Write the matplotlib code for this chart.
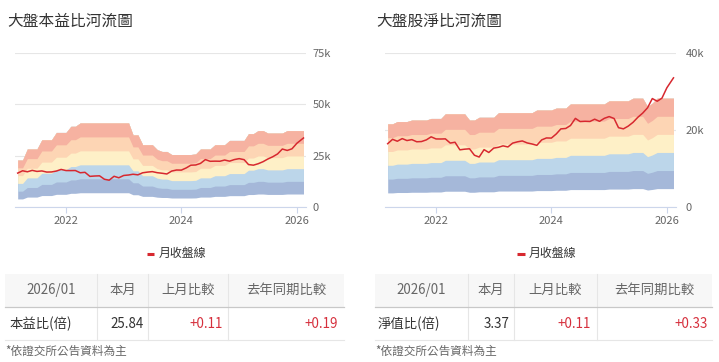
import numpy as np
import pandas as pd
import matplotlib
matplotlib.use('Agg')
import matplotlib.pyplot as plt
import matplotlib.dates as mdates
from matplotlib.patches import Rectangle

plt.rcParams['font.family'] = ['Noto Sans CJK TC', 'DejaVu Sans']

# monthly points 2021-03 .. 2026-01 plus the latest point
dates = list(pd.date_range('2021-03-01', '2026-01-01', freq='MS')) + [pd.Timestamp('2026-02-12')]

# monthly close of the index (thousands)
price = [16.43, 17.57, 17.07, 17.76, 17.25, 17.49, 16.93, 16.99, 17.43, 18.22,
         17.67, 17.65, 17.69, 16.59, 16.81, 14.83, 15.00, 15.10, 13.42, 12.95,
         14.88, 14.14, 15.27, 15.50, 15.87, 15.58, 16.58, 16.92, 17.15, 16.63,
         16.35, 16.00, 17.43, 17.93, 17.89, 18.97, 20.29, 20.40, 21.17, 23.03,
         22.20, 22.27, 22.22, 22.82, 22.26, 23.04, 23.50, 23.00, 20.60, 20.30,
         21.00, 22.00, 23.30, 24.40, 25.80, 28.20, 27.50, 28.30, 31.00, 33.60]

# trailing EPS (thousands) and book value per share (thousands)
eps = [0.76, 0.76, 0.94, 0.94, 0.94, 1.09, 1.09, 1.09, 1.21, 1.21,
       1.21, 1.31, 1.31, 1.365, 1.365, 1.365, 1.365, 1.365, 1.365, 1.365,
       1.365, 1.365, 1.365, 1.365, 1.17, 1.17, 1.01, 1.01, 1.01, 0.93,
       0.90, 0.90, 0.85, 0.85, 0.85, 0.85, 0.85, 0.86, 0.94, 0.94,
       0.94, 1.01, 1.01, 1.01, 1.08, 1.08, 1.08, 1.08, 1.19, 1.19,
       1.24, 1.24, 1.20, 1.20, 1.20, 1.20, 1.24, 1.24, 1.24, 1.24]
bvps = [7.20, 7.20, 7.40, 7.40, 7.40, 7.53, 7.53, 7.53, 7.53, 7.67,
        7.67, 7.67, 8.07, 8.07, 8.07, 8.07, 8.07, 7.53, 7.53, 7.77,
        7.77, 7.77, 7.77, 8.17, 8.17, 8.17, 8.17, 8.17, 8.17, 8.17,
        8.17, 8.40, 8.40, 8.40, 8.40, 8.57, 8.57, 8.57, 8.93, 8.93,
        8.93, 8.93, 8.93, 8.93, 8.93, 8.93, 9.20, 9.20, 9.20, 9.20,
        9.20, 9.43, 9.43, 9.43, 8.70, 9.00, 9.43, 9.43, 9.43, 9.43]

pe_mult = [5, 10, 15, 20, 25, 30]
pb_mult = [0.5, 1.0, 1.5, 2.0, 2.5, 3.0]
band_colors = ['#a5b8d9', '#bcd6ea', '#fef0c7', '#fdd5b4', '#f6b2a1']

titles = ['大盤本益比河流圖', '大盤股淨比河流圖']
table_head = ['2026/01', '本月', '上月比較', '去年同期比較']
pe_row = ['本益比(倍)', '25.84', '+0.11', '+0.19']
pb_row = ['淨值比(倍)', '3.37', '+0.11', '+0.33']
note = '*依證交所公告資料為主'

W, H = 719, 362
fig = plt.figure(figsize=(W / 100, H / 100), dpi=100)

x0 = pd.Timestamp('2021-02-12')
x1 = pd.Timestamp('2026-02-26')
px_w = 290.7


def river(left, base, mult, ymax, step, pad):
    ax = fig.add_axes([left / W, 1 - 206.7 / H, px_w / W, 153.4 / H])
    b = np.array(base)
    for i in range(5):
        ax.fill_between(dates, b * mult[i], b * mult[5], color=band_colors[i], lw=0)
    ax.plot(dates, price, color='#d7282f', lw=1.1)
    ax.set_xlim(x0, x1)
    ax.set_ylim(0, ymax)
    ax.set_yticks(np.arange(0, ymax + 1, step))
    ax.yaxis.set_major_formatter(lambda v, p: '0' if v == 0 else f'{int(v)}k')
    ax.yaxis.tick_right()
    ticks = [pd.Timestamp(f'{y}-01-01') for y in (2022, 2024, 2026)]
    ax.set_xticks(ticks)
    ax.set_xticklabels(['2022', '2024', '2026'])
    ax.grid(axis='y', color='#e6e6e6', lw=0.8)
    ax.set_axisbelow(True)
    for s in ['top', 'left', 'right']:
        ax.spines[s].set_visible(False)
    ax.spines['bottom'].set_color('#ccd6eb')
    ax.tick_params(axis='y', length=0, labelsize=8, labelcolor='#666666', pad=pad)
    ax.tick_params(axis='x', length=4, color='#ccd6eb', labelsize=8, labelcolor='#666666', pad=3)
    return ax


river(15, eps, pe_mult, 75, 25, 5)
river(385, bvps, pb_mult, 40, 20, 7)

# overlay in pixel coordinates for titles, legend and tables
ov = fig.add_axes([0, 0, 1, 1])
ov.set_xlim(0, W)
ov.set_ylim(H, 0)
ov.axis('off')
ov.patch.set_alpha(0)

ov.text(7, 21, titles[0], fontsize=11.3, color='#333333', va='center', ha='left')
ov.text(376, 21, titles[1], fontsize=11.3, color='#333333', va='center', ha='left')

for lx in (146.5, 517):
    ov.plot([lx, lx + 7.5], [253.5, 253.5], color='#d7282f', lw=2.2, solid_capstyle='butt')
    ov.text(lx + 12, 253.5, '月收盤線', fontsize=8.6, color='#333333', va='center', ha='left')


def table(xs, row, lx, rx):
    # xs: left edge, 3 separators, right edge
    ov.add_patch(Rectangle((xs[0], 273.5), xs[-1] - xs[0], 33.5, color='#f7f7f7', lw=0))
    for sx in xs[1:-1]:
        ov.plot([sx, sx], [273.5, 340], color='#e6e6e6', lw=0.8)
    ov.plot([xs[0], xs[-1]], [307, 307], color='#c8c8c8', lw=0.9)
    ov.plot([xs[0], xs[-1]], [340, 340], color='#e6e6e6', lw=0.8)
    for i, t in enumerate(table_head):
        ov.text((xs[i] + xs[i + 1]) / 2, 290, t, fontsize=9.6, color='#666666',
                ha='center', va='center')
    ov.text(lx, 323.5, row[0], fontsize=9.6, color='#333333', ha='left', va='center')
    colors = ['#333333', '#d6303d', '#d6303d']
    for i in range(1, 4):
        ov.text(rx[i - 1], 323.5, row[i], fontsize=9.6, color=colors[i - 1],
                ha='right', va='center')


table([4.5, 97.3, 148.3, 228.3, 343.5], pe_row, 9.3, [144, 223.3, 337.7])
table([375, 468.3, 514, 596.7, 711.7], pb_row, 378, [510, 591, 707.7])

ov.text(5, 351.5, note, fontsize=8.4, color='#666666', ha='left', va='center')
ov.text(375, 351.5, note, fontsize=8.4, color='#666666', ha='left', va='center')

fig.savefig('out.png', dpi=100)
